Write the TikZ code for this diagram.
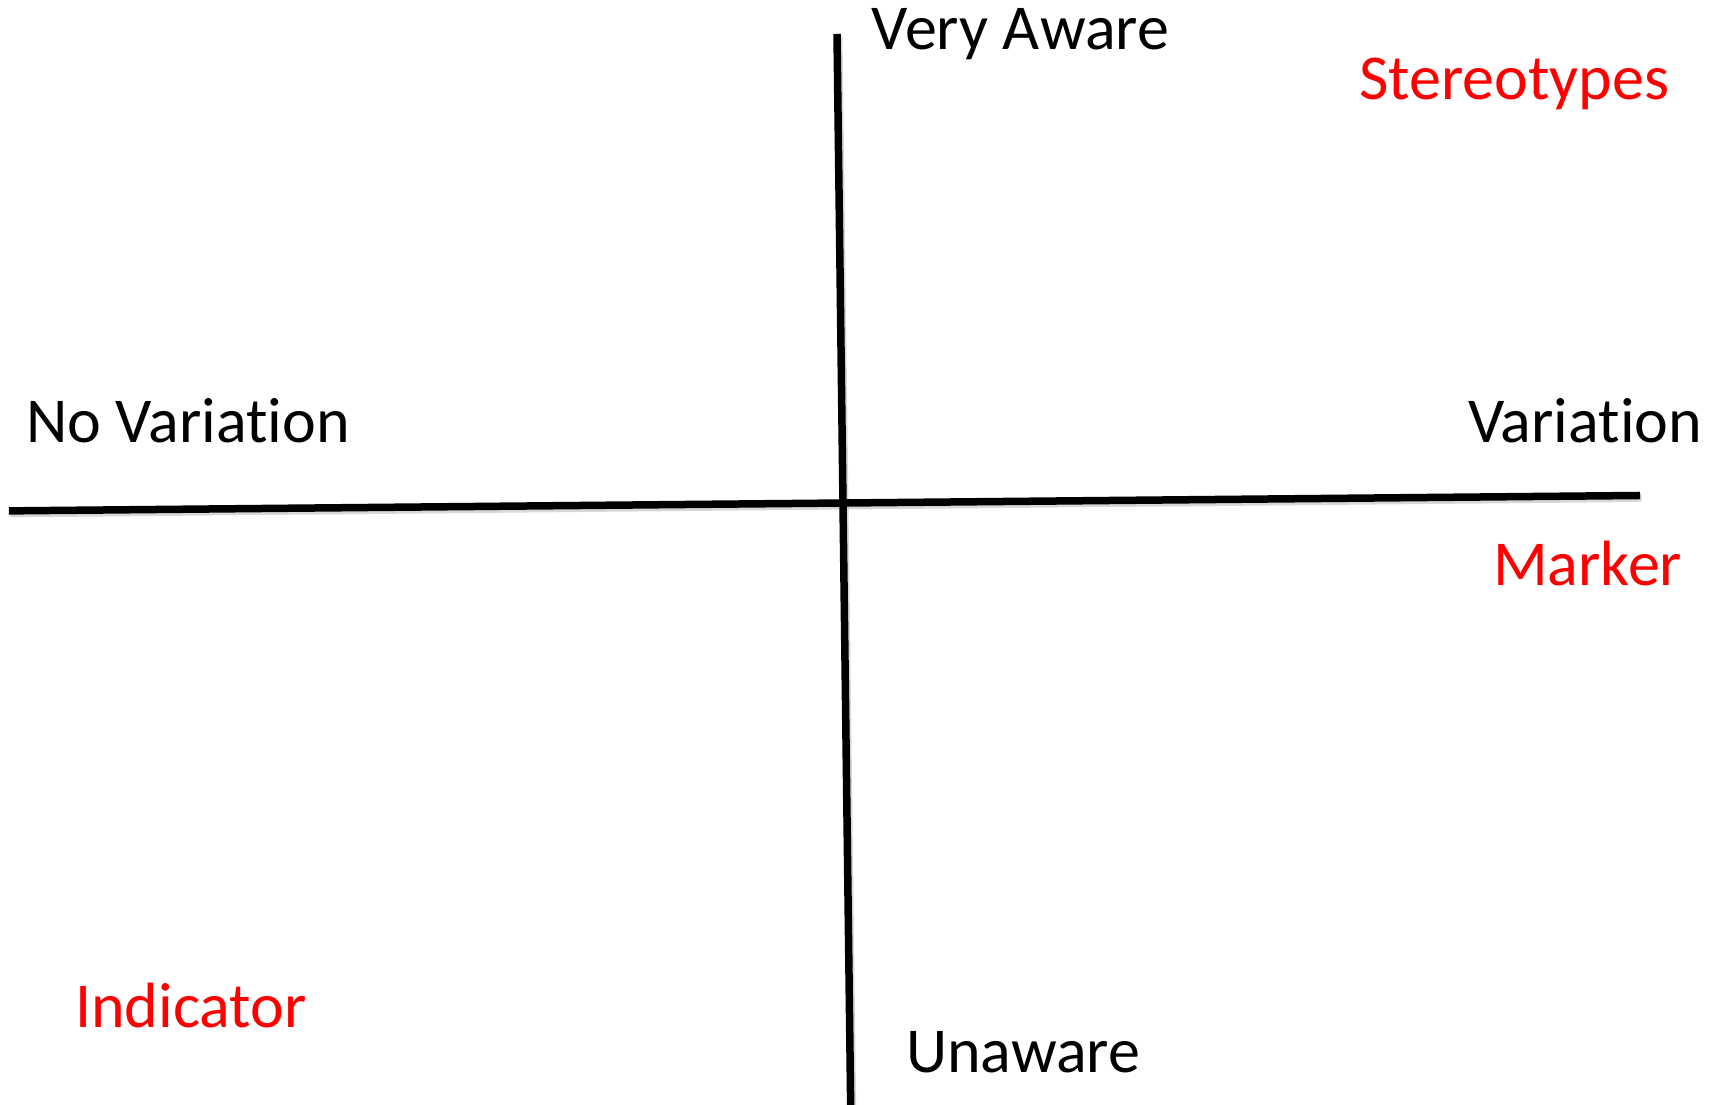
\documentclass[tikz,border=0pt]{standalone}
\usepackage{fontspec}
\setmainfont[Ligatures={NoCommon}]{Carlito}
\definecolor{lblred}{RGB}{255,0,0}
\begin{document}
\begin{tikzpicture}[x=1pt,y=1pt,
  axis/.style={line width=7.5pt,black},
  axshadow/.style={line width=8pt,black!25,opacity=0.6},
  lbl/.style={inner sep=0pt,anchor=base west,font=\fontsize{64}{76}\selectfont},
  blacklbl/.style={lbl,text=black},
  redlbl/.style={lbl,text=lblred}]
\useasboundingbox (0,0) rectangle (1719,1105);
\fill[white] (0,0) rectangle (1719,1105);
\coordinate (vt) at (837,1071);
\coordinate (vb) at (850.7,-3);
\coordinate (hl) at (8.8,594.1);
\coordinate (hr) at (1640,609.5);
\draw[axshadow] ([shift={(1.5,-2.5)}]vt) -- ([shift={(1.5,-2.5)}]vb);
\draw[axshadow] ([shift={(1.5,-2.5)}]hl) -- ([shift={(1.5,-2.5)}]hr);
\draw[axis] (vt) -- (vb);
\draw[axis] (hl) -- (hr);
\node[blacklbl] (veryaware) at (871.7,1055) {Very Aware};
\node[redlbl] (stereo) at (1359,1005) {Stereotypes};
\node[blacklbl] (novar) at (26,662) {No Variation};
\node[blacklbl] (var) at (1468,662) {Variation};
\node[redlbl] (marker) at (1493,519) {Marker};
\node[redlbl] (indicator) at (75,77) {Indicator};
\node[blacklbl] (unaware) at (906,32) {Unaware};
\end{tikzpicture}
\end{document}
